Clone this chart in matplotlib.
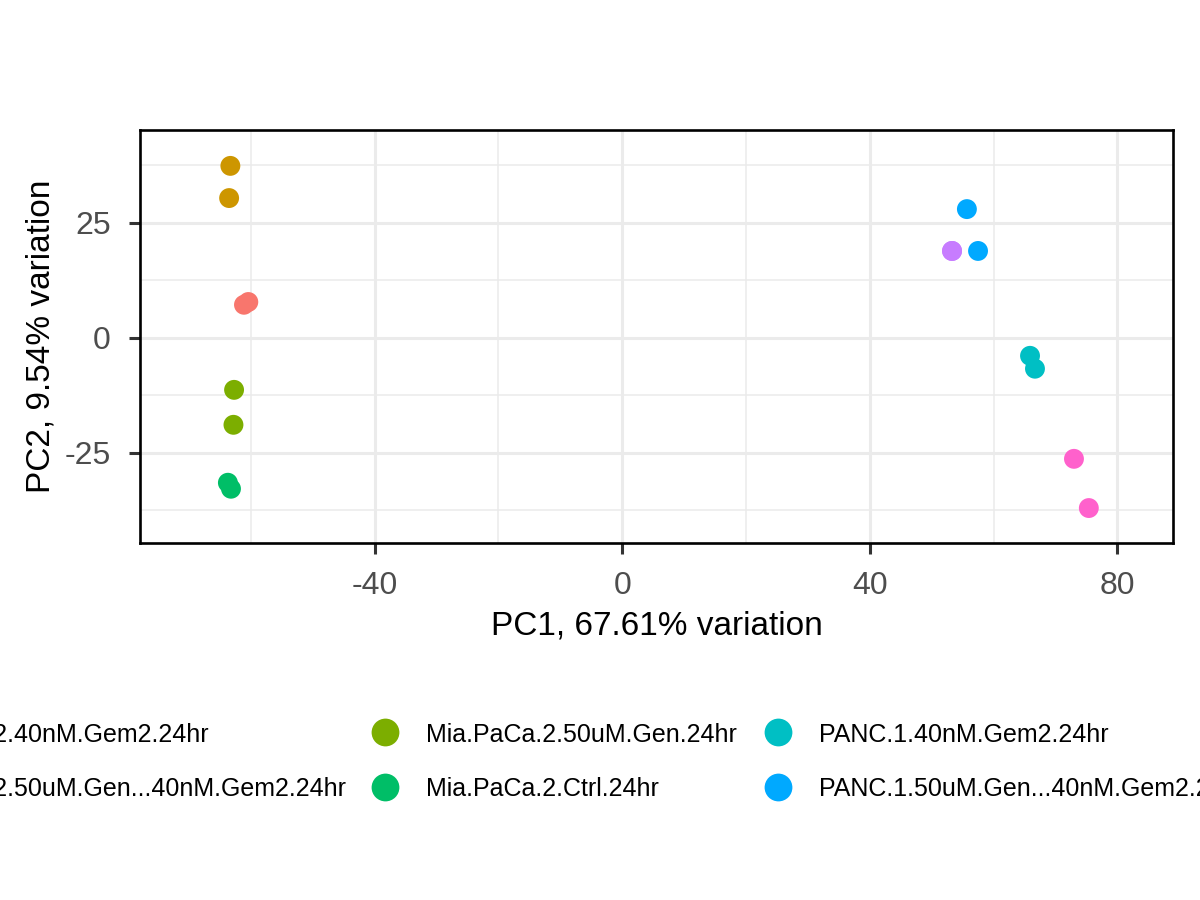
import numpy as np
import matplotlib
matplotlib.use("Agg")
import matplotlib.pyplot as plt
from matplotlib.lines import Line2D

plt.rcParams['font.family'] = ['Liberation Sans', 'DejaVu Sans']
plt.rcParams['axes.unicode_minus'] = False

# groups and their ggplot hue colours
groups = [
    "Mia.PaCa.2.40nM.Gem2.24hr",
    "Mia.PaCa.2.50uM.Gen...40nM.Gem2.24hr",
    "Mia.PaCa.2.50uM.Gen.24hr",
    "Mia.PaCa.2.Ctrl.24hr",
    "PANC.1.40nM.Gem2.24hr",
    "PANC.1.50uM.Gen...40nM.Gem2.24hr",
    "PANC.1.50uM.Gen.24hr",
    "PANC.1.Ctrl.24hr",
]
colors = ["#F8766D", "#CD9600", "#7CAE00", "#00BE67",
          "#00BFC4", "#00A9FF", "#C77CFF", "#FF61CC"]

# PC scores, two samples per group
pc1 = [[-61.1, -60.4], [-63.3, -63.5], [-62.7, -62.8], [-63.7, -63.2],
       [65.9, 66.7], [55.7, 57.5], [53.3, 53.3], [73.0, 75.4]]
pc2 = [[7.2, 7.8], [37.4, 30.4], [-11.3, -18.9], [-31.5, -32.8],
       [-3.9, -6.7], [28.0, 18.9], [18.9, 18.9], [-26.3, -37.0]]

W, H = 1200, 900
fig = plt.figure(figsize=(12, 9), dpi=100)
ax = fig.add_axes([140/W, 1 - 543/H, (1173-140)/W, (543-130)/H])

for g, c, xs, ys in zip(groups, colors, pc1, pc2):
    ax.scatter(xs, ys, s=205, color=c, edgecolors='none', zorder=3)

ax.set_xlim(-77.9, 89.0)
ax.set_ylim(-44.6, 45.2)
ax.set_xticks([-40, 0, 40, 80])
ax.set_yticks([-25, 0, 25])
ax.set_xticks([-60, -20, 20, 60], minor=True)
ax.set_yticks([-37.5, -12.5, 12.5, 37.5], minor=True)
ax.grid(True, which='major', color='#EBEBEB', linewidth=2.2, zorder=0)
ax.grid(True, which='minor', color='#EBEBEB', linewidth=1.1, zorder=0)
ax.set_axisbelow(True)
ax.tick_params(which='minor', length=0)
ax.tick_params(which='major', length=8, width=2.2, color='#333333',
               labelcolor='#4D4D4D', labelsize=23)
ax.tick_params(axis='x', pad=12)
ax.tick_params(axis='y', pad=13)
for sp in ax.spines.values():
    sp.set_linewidth(1.9)
    sp.set_color('black')

ax.set_xlabel("PC1, 67.61% variation", fontsize=24, labelpad=7)
ax.set_ylabel("PC2, 9.54% variation", fontsize=24, labelpad=6)

# legend laid out like ggplot's bottom legend (4 columns x 2 rows, wider than the figure)
leg_size = 18
row_y = [732, 786.5]
key_gap = 41          # key centre to label start, px
col_gap = 40          # label end to next key centre, px
renderer = fig.canvas.get_renderer()

def text_width(s):
    t = fig.text(0, 0, s, fontsize=leg_size)
    w = t.get_window_extent(renderer).width
    t.remove()
    return w

cols = [groups[i:i+2] for i in range(0, len(groups), 2)]
col_w = [max(text_width(s) for s in col) for col in cols]
key_x = [0.0] * 4
key_x[1] = 385
key_x[2] = 778
key_x[0] = 346 - col_w[0] - key_gap
key_x[3] = key_x[2] + key_gap + col_w[2] + col_gap

for ci in range(4):
    for ri in range(2):
        gi = ci * 2 + ri
        y = 1 - row_y[ri] / H
        fig.add_artist(Line2D([key_x[ci] / W], [y], transform=fig.transFigure,
                              marker='o', linestyle='none', markersize=20,
                              markerfacecolor=colors[gi], markeredgecolor='none'))
        fig.text((key_x[ci] + key_gap) / W, y, groups[gi], fontsize=leg_size,
                 ha='left', va='center_baseline', color='black')

fig.savefig("out.png", dpi=100)
